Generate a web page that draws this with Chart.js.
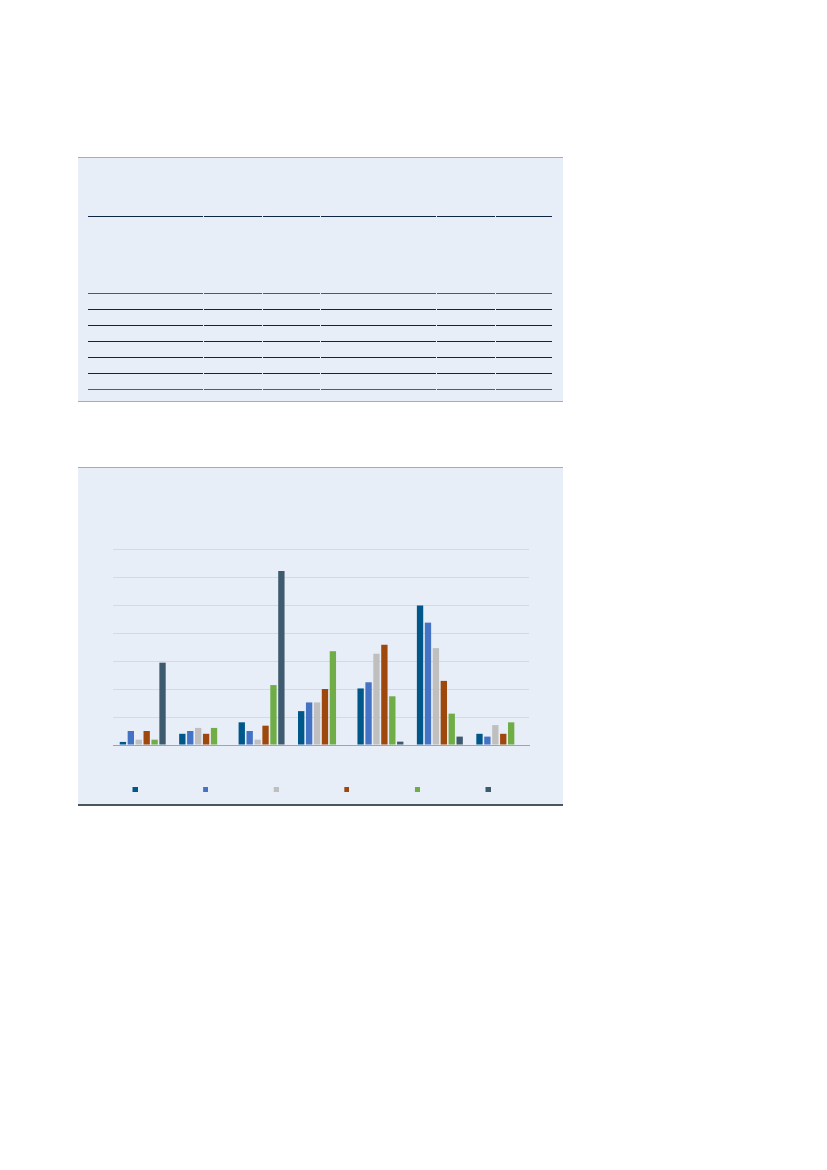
<!DOCTYPE html>
<html>
<head>
<meta charset="utf-8">
<script src="https://cdn.jsdelivr.net/npm/chart.js@4.4.0/dist/chart.umd.min.js"></script>
<style>
  html, body { margin: 0; padding: 0; background: #ffffff; }
  body { width: 827px; height: 1170px; position: relative; overflow: hidden; font-family: "Liberation Sans", Arial, sans-serif; }
  .panel { position: absolute; left: 78px; width: 485px; background: #e8eef7; box-sizing: border-box; }
  #tablePanel { top: 157px; height: 245px; border-top: 1px solid #a7acb3; border-bottom: 1px solid #a7acb3; }
  #chartPanel { top: 467px; height: 339px; border-top: 1px solid #a7acb3; border-bottom: 2px solid #4a5561; }
  #tbl { position: absolute; left: 9px; top: 58px; border-collapse: separate; border-spacing: 1px 0; }
  #tbl td { padding: 0; height: 15px; border-bottom: 1px solid #0f2544; }
  #tbl tr.hdr td { height: 76px; border-top: 1px solid #0f2544; border-bottom: 1px solid #475a6e; }
  #tbl tr.last td { border-bottom: 1px solid #4b5c6d; }
  #chartBox { position: absolute; left: 0; top: 0; width: 485px; height: 336px; }
</style>
</head>
<body>
<div class="panel" id="tablePanel">
  <table id="tbl"></table>
</div>
<div class="panel" id="chartPanel">
  <div id="chartBox"><canvas id="c"></canvas></div>
</div>
<script>
// ---- data ----
const categories = ['1', '2', '3', '4', '5', '6', '7'];
const seriesNames = ['A', 'B', 'C', 'D', 'E', 'F'];
const series1 = [0.11, 0.40, 0.81, 1.21, 2.02, 4.98, 0.40];
const series2 = [0.50, 0.50, 0.50, 1.52, 2.24, 4.37, 0.30];
const series3 = [0.19, 0.61, 0.19, 1.52, 3.26, 3.46, 0.71];
const series4 = [0.50, 0.40, 0.69, 2.00, 3.58, 2.29, 0.40];
const series5 = [0.19, 0.61, 2.14, 3.35, 1.74, 1.12, 0.81];
const series6 = [2.94, 0, 6.21, 0, 0.12, 0.30, 0];
const yTicks = [0, 1, 2, 3, 4, 5, 6, 7];

// table structure (empty cells)
const tableColWidths = [115, 58, 57, 115, 58, 56];
const tableRows = 6;

// ---- table ----
(function buildTable() {
  const tbl = document.getElementById('tbl');
  const mk = (cls) => {
    const tr = document.createElement('tr');
    if (cls) tr.className = cls;
    tableColWidths.forEach(w => {
      const td = document.createElement('td');
      td.style.width = w + 'px';
      tr.appendChild(td);
    });
    tbl.appendChild(tr);
  };
  mk('hdr');
  for (let i = 0; i < tableRows; i++) mk(i === tableRows - 1 ? 'last' : '');
})();

// ---- chart ----
const colors = ['#00578a', '#4472c4', '#bfbfbf', '#9e480e', '#70ad47', '#3e5a6e'];
const allSeries = [series1, series2, series3, series4, series5, series6];

function legendMarker(color) {
  const cv = document.createElement('canvas');
  cv.width = 26; cv.height = 5;
  const g = cv.getContext('2d');
  g.fillStyle = color;
  g.fillRect(21, 0, 5, 5);
  return cv;
}
const markers = colors.map(legendMarker);

new Chart(document.getElementById('c'), {
  type: 'bar',
  data: {
    labels: categories,
    datasets: allSeries.map((d, i) => ({
      label: seriesNames[i],
      data: d,
      backgroundColor: colors[i],
      borderWidth: 0,
      categoryPercentage: 0.8,
      barPercentage: 0.8
    }))
  },
  options: {
    responsive: true,
    maintainAspectRatio: false,
    animation: false,
    layout: { padding: { left: 0, right: 34, top: 81, bottom: 0 } },
    plugins: {
      tooltip: { enabled: false },
      legend: {
        display: true,
        position: 'bottom',
        align: 'center',
        labels: {
          usePointStyle: true,
          pointStyleWidth: 55.6,
          boxHeight: 5,
          padding: 10,
          font: { size: 10 },
          generateLabels: (chart) => chart.data.datasets.map((ds, i) => ({
            text: '',
            fillStyle: colors[i],
            strokeStyle: colors[i],
            lineWidth: 0,
            pointStyle: markers[i],
            hidden: false,
            datasetIndex: i
          }))
        }
      }
    },
    scales: {
      x: {
        grid: { display: false, drawTicks: false },
        border: { display: true, color: '#a0a4a8', width: 1 },
        ticks: { display: false },
        afterFit: (axis) => { axis.height = 29; }
      },
      y: {
        min: 0,
        max: 7,
        afterBuildTicks: (axis) => { axis.ticks = yTicks.map(v => ({ value: v })); },
        afterFit: (axis) => { axis.width = 35; },
        grid: {
          drawTicks: false,
          color: (ctx) => (ctx.tick && ctx.tick.value === 0) ? '#a0a4a8' : '#d9d9d9',
          lineWidth: 1
        },
        border: { display: false },
        ticks: { display: false }
      }
    }
  }
});
</script>
</body>
</html>
